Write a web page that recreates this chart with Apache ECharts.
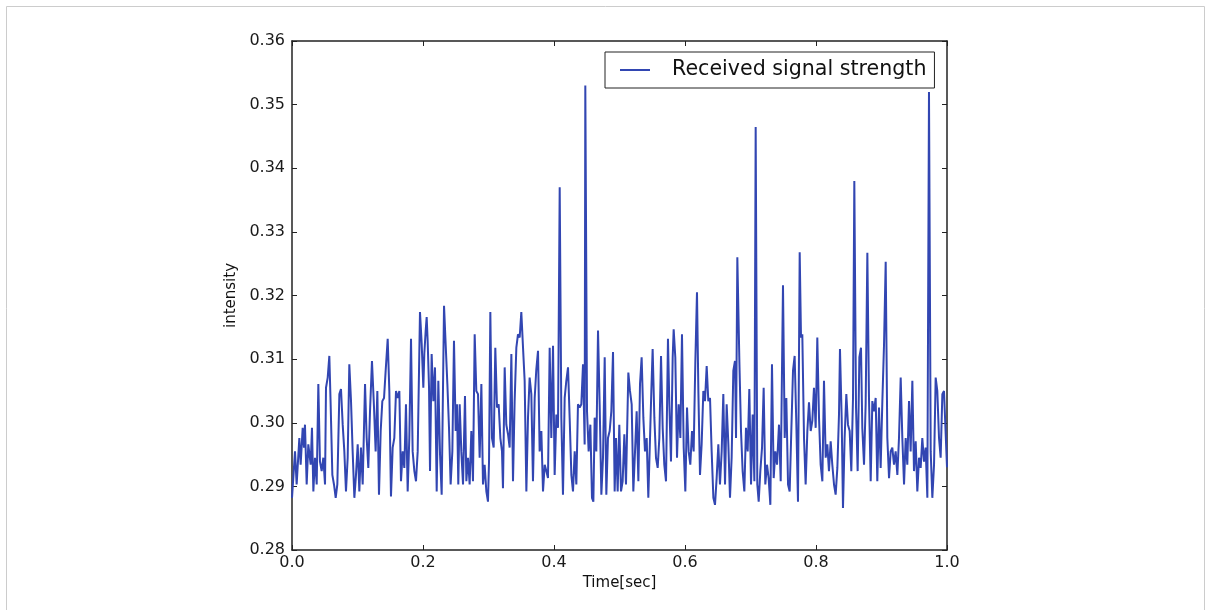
<!DOCTYPE html>
<html><head><meta charset="utf-8">
<script src="https://cdn.jsdelivr.net/npm/echarts@6/dist/echarts.min.js"></script>
<style>html,body{margin:0;padding:0;background:#fff}#c{width:1211px;height:610px}</style>
</head><body><div id="c"></div>
<script>
const seriesName = 'Received signal strength';
const xAxisTitle = 'Time[sec]';
const yAxisTitle = 'intensity';
const xRange = [0, 1.0];
const yRange = [0.28, 0.36];
// [time (s), intensity]
const receivedSignal = [
[0.0000,0.2882],[0.0046,0.2955],[0.0071,0.2903],[0.0112,0.2976],[0.0132,0.2934],[0.0163,0.2992],[0.0183,0.2961],[0.0198,0.2997],[0.0224,0.2903],[0.0249,0.2966],
[0.0285,0.2934],[0.0305,0.2992],[0.0326,0.2892],[0.0351,0.2945],[0.0377,0.2903],[0.0402,0.3061],[0.0427,0.2939],[0.0453,0.2924],[0.0478,0.2945],[0.0504,0.2903],
[0.0519,0.3055],[0.0545,0.3071],[0.0570,0.3105],[0.0590,0.3029],[0.0616,0.2918],[0.0641,0.2903],[0.0667,0.2882],[0.0692,0.2903],[0.0723,0.3045],[0.0748,0.3053],
[0.0774,0.2997],[0.0799,0.2955],[0.0824,0.2892],[0.0850,0.2945],[0.0875,0.3092],[0.0901,0.3034],[0.0926,0.2955],[0.0952,0.2882],[0.0977,0.2918],[0.1003,0.2966],
[0.1028,0.2892],[0.1053,0.2961],[0.1079,0.2903],[0.1115,0.3061],[0.1140,0.2976],[0.1165,0.2929],[0.1191,0.3018],[0.1221,0.3097],[0.1252,0.3024],[0.1277,0.2955],
[0.1303,0.3050],[0.1328,0.2887],[0.1354,0.2987],[0.1379,0.3034],[0.1405,0.3039],[0.1430,0.3082],[0.1461,0.3132],[0.1486,0.3050],[0.1511,0.2884],[0.1537,0.2961],
[0.1562,0.2976],[0.1588,0.3050],[0.1613,0.3039],[0.1639,0.3050],[0.1664,0.2908],[0.1690,0.2955],[0.1715,0.2929],[0.1740,0.3029],[0.1766,0.2892],[0.1791,0.2976],
[0.1817,0.3132],[0.1842,0.2955],[0.1868,0.2924],[0.1893,0.2908],[0.1919,0.2955],[0.1954,0.3174],[0.1980,0.3124],[0.2005,0.3055],[0.2020,0.3108],[0.2041,0.3145],
[0.2056,0.3166],[0.2071,0.3129],[0.2092,0.3055],[0.2107,0.2924],[0.2132,0.3108],[0.2158,0.3034],[0.2183,0.3087],[0.2209,0.2892],[0.2234,0.3066],[0.2260,0.2950],
[0.2285,0.2887],[0.2321,0.3184],[0.2346,0.3182],[0.2372,0.3061],[0.2397,0.2992],[0.2422,0.2903],[0.2448,0.2955],
[0.2473,0.3129],[0.2499,0.2987],[0.2519,0.3029],[0.2539,0.2903],[0.2560,0.3029],[0.2585,0.2955],[0.2611,0.2903],[0.2641,0.3042],[0.2662,0.2908],[0.2687,0.2945],
[0.2712,0.2903],[0.2738,0.2987],[0.2763,0.2908],[0.2789,0.3139],[0.2814,0.3050],[0.2840,0.3045],[0.2865,0.2945],[0.2891,0.3061],[0.2916,0.2903],[0.2941,0.2934],
[0.2967,0.2892],[0.2992,0.2876],[0.3008,0.2939],[0.3028,0.3174],[0.3053,0.2976],[0.3079,0.2961],[0.3104,0.3118],[0.3130,0.3024],[0.3155,0.3029],[0.3181,0.2976],
[0.3206,0.2955],[0.3221,0.2897],[0.3247,0.3087],[0.3272,0.2997],[0.3298,0.2982],[0.3323,0.2961],[0.3349,0.3108],[0.3374,0.2908],[0.3399,0.3034],[0.3425,0.3118],
[0.3450,0.3139],[0.3476,0.3134],[0.3501,0.3174],[0.3527,0.3118],[0.3552,0.3066],[0.3578,0.2892],[0.3603,0.3008],[0.3628,0.3071],[0.3654,0.3045],[0.3679,0.2908],
[0.3705,0.3039],[0.3730,0.3084],[0.3756,0.3113],[0.3781,0.2955],[0.3807,0.2987],[0.3832,0.2892],[0.3858,0.2934],[0.3883,0.2924],[0.3908,0.2913],[0.3934,0.3118],
[0.3959,0.2976],[0.3985,0.3121],[0.4010,0.2918],[0.4036,0.3013],[0.4061,0.2992],[0.4087,0.3370],[0.4112,0.3008],[0.4137,0.2887],[0.4163,0.3039],[0.4188,0.3066],
[0.4214,0.3087],[0.4239,0.3008],[0.4265,0.2918],[0.4290,0.2892],[0.4316,0.2955],[0.4341,0.2903],[0.4366,0.3029],[0.4392,0.3024],[0.4417,0.3029],[0.4443,0.3092],
[0.4468,0.2966],[0.4478,0.3530],[0.4504,0.3018],[0.4529,0.2955],[0.4555,0.2997],[0.4580,0.2882],[0.4601,0.2876],[0.4621,0.3008],[0.4646,0.2955],[0.4672,0.3145],
[0.4697,0.3029],[0.4723,0.2887],[0.4748,0.2945],[0.4774,0.3103],[0.4799,0.2887],[0.4824,0.2976],[0.4850,0.2987],[0.4875,0.3018],[0.4901,0.3111],[0.4926,0.2892],
[0.4947,0.2976],[0.4972,0.2892],[0.4997,0.2997],[0.5023,0.2892],[0.5048,0.2908],[0.5074,0.2982],[0.5099,0.2903],[0.5135,0.3079],[0.5160,0.3050],[0.5186,0.3029],
[0.5211,0.2892],[0.5237,0.2955],[0.5262,0.3018],[0.5288,0.2908],[0.5313,0.3061],[0.5338,0.3103],[0.5364,0.3008],[0.5389,0.2955],[0.5415,0.2976],[0.5440,0.2882],
[0.5466,0.2976],[0.5486,0.3050],[0.5506,0.3116],[0.5532,0.3008],[0.5557,0.2945],[0.5583,0.2929],[0.5608,0.2976],[0.5634,0.3105],[0.5659,0.2992],[0.5684,0.2934],
[0.5710,0.2908],[0.5740,0.3132],[0.5761,0.3029],[0.5786,0.2939],[0.5812,0.3103],[0.5827,0.3147],[0.5852,0.3103],[0.5878,0.2945],[0.5903,0.3029],[0.5929,0.2976],
[0.5954,0.3139],[0.5980,0.2961],[0.6005,0.2892],[0.6031,0.3024],[0.6056,0.2955],[0.6081,0.2934],[0.6107,0.2987],[0.6132,0.2955],[0.6158,0.3097],[0.6183,0.3205],
[0.6204,0.3050],[0.6229,0.2918],[0.6254,0.2966],[0.6280,0.3050],[0.6305,0.3034],[0.6331,0.3089],[0.6356,0.3034],[0.6382,0.3039],[0.6407,0.2955],[0.6433,0.2882],
[0.6458,0.2871],[0.6483,0.2913],[0.6509,0.2966],[0.6534,0.2903],[0.6560,0.2955],[0.6585,0.3045],[0.6611,0.2903],[0.6636,0.3029],[0.6662,0.2966],[0.6687,0.2882],
[0.6712,0.2945],[0.6738,0.3082],[0.6763,0.3097],[0.6779,0.2976],[0.6799,0.3260],[0.6830,0.3097],[0.6855,0.2987],[0.6880,0.2924],[0.6906,0.2892],[0.6931,0.2992],
[0.6957,0.2955],[0.6982,0.3053],[0.7008,0.2903],[0.7033,0.3013],[0.7059,0.2908],[0.7079,0.3465],[0.7104,0.2903],[0.7125,0.2876],[0.7150,0.2924],[0.7176,0.2961],
[0.7201,0.3055],[0.7226,0.2903],[0.7252,0.2934],[0.7277,0.2913],[0.7303,0.2871],[0.7328,0.3092],[0.7354,0.2913],[0.7379,0.2955],[0.7405,0.2934],
[0.7435,0.2997],[0.7461,0.2908],[0.7496,0.3216],[0.7522,0.2976],[0.7547,0.3039],[0.7573,0.2903],[0.7598,0.2892],[0.7623,0.2987],[0.7649,0.3082],[0.7674,0.3105],
[0.7700,0.2997],[0.7725,0.2876],[0.7751,0.3268],[0.7771,0.3134],[0.7791,0.3139],[0.7817,0.2976],[0.7842,0.2903],[0.7868,0.2987],[0.7893,0.3032],[0.7919,0.2987],
[0.7944,0.3003],[0.7969,0.3055],[0.7995,0.2992],[0.8020,0.3134],[0.8046,0.3008],[0.8071,0.2934],[0.8097,0.2908],[0.8122,0.3066],[0.8148,0.2945],[0.8173,0.2966],
[0.8198,0.2924],[0.8224,0.2971],[0.8249,0.2934],[0.8275,0.2903],[0.8300,0.2887],[0.8326,0.2929],[0.8351,0.3013],[0.8366,0.3116],[0.8392,0.3008],[0.8412,0.2866],
[0.8437,0.2976],[0.8463,0.3045],[0.8488,0.2997],[0.8514,0.2987],[0.8539,0.2924],[0.8565,0.3039],[0.8585,0.3380],[0.8611,0.3024],[0.8636,0.2924],[0.8662,0.3103],
[0.8687,0.3118],[0.8707,0.2992],[0.8733,0.2934],[0.8758,0.3029],[0.8784,0.3267],[0.8809,0.3039],[0.8835,0.2908],[0.8860,0.3034],[0.8885,0.3018],[0.8911,0.3039],
[0.8936,0.2908],[0.8962,0.3024],[0.8987,0.2929],[0.9013,0.3034],[0.9038,0.3121],[0.9064,0.3253],[0.9089,0.2976],[0.9115,0.2913],[0.9140,0.2955],[0.9165,0.2961],
[0.9191,0.2934],[0.9216,0.2955],[0.9242,0.2918],[0.9267,0.2976],[0.9293,0.3071],[0.9318,0.2976],[0.9344,0.2903],[0.9369,0.2976],[0.9394,0.2934],[0.9420,0.3034],
[0.9445,0.2955],[0.9471,0.3066],[0.9496,0.2924],[0.9522,0.2971],[0.9547,0.2892],[0.9573,0.2945],[0.9598,0.2929],[0.9623,0.2976],[0.9649,0.2939],[0.9674,0.2961],
[0.9700,0.2882],[0.9725,0.3520],[0.9751,0.2955],[0.9776,0.2882],[0.9802,0.2934],[0.9827,0.3071],[0.9852,0.3050],[0.9878,0.2976],[0.9903,0.2945],[0.9929,0.3045],
[0.9954,0.3050],[1.0000,0.2930]
];

const FONT = 'DejaVu Sans';
const AX = '#222';
const LINE = '#3246b2';

function frameAxis(extra) {
  return Object.assign({
    type: 'value',
    axisLine: { show: true, onZero: false, lineStyle: { color: AX, width: 1.5 } },
    axisTick: { show: true, inside: true, length: 5, lineStyle: { color: AX, width: 1 } },
    splitLine: { show: false },
    axisLabel: { show: false }
  }, extra);
}

const chart = echarts.init(document.getElementById('c'), null, { renderer: 'canvas' });
chart.setOption({
  animation: false,
  backgroundColor: '#fff',
  textStyle: { fontFamily: FONT },
  graphic: [{
    type: 'rect', silent: true, z: -10,
    shape: { x: 6.5, y: 6.5, width: 1198, height: 640 },
    style: { fill: 'none', stroke: '#cccccc', lineWidth: 1 }
  }],
  grid: { left: 292, right: 264, top: 41, bottom: 60, containLabel: false },
  legend: {
    data: [seriesName],
    left: 605, top: 52,
    icon: 'rect',
    itemWidth: 30, itemHeight: 2,
    padding: [7, 8, 7, 15],
    borderColor: '#222', borderWidth: 1, backgroundColor: '#fff',
    itemStyle: { color: LINE },
    textStyle: { fontSize: 20.6, color: '#111', fontFamily: FONT, padding: [0, 0, 0, 17], lineHeight: 22 }
  },
  xAxis: [
    frameAxis({
      min: xRange[0], max: xRange[1], interval: 0.2, position: 'bottom',
      name: xAxisTitle, nameLocation: 'middle', nameGap: 24,
      nameTextStyle: { fontSize: 15, color: '#111', fontFamily: FONT },
      axisLabel: { show: true, margin: 5, fontSize: 16, color: '#1a1a1a', fontFamily: FONT,
        formatter: v => v.toFixed(1) }
    }),
    frameAxis({ min: xRange[0], max: xRange[1], interval: 0.2, position: 'top' })
  ],
  yAxis: [
    frameAxis({
      min: yRange[0], max: yRange[1], interval: 0.01, position: 'left',
      name: yAxisTitle, nameLocation: 'middle', nameGap: 52, nameRotate: 90,
      nameTextStyle: { fontSize: 15, color: '#111', fontFamily: FONT },
      axisLabel: { show: true, margin: 7, fontSize: 16, color: '#1a1a1a', fontFamily: FONT,
        formatter: v => v.toFixed(2) }
    }),
    frameAxis({ min: yRange[0], max: yRange[1], interval: 0.01, position: 'right' })
  ],
  series: [{
    name: seriesName,
    type: 'line',
    xAxisIndex: 0, yAxisIndex: 0,
    data: receivedSignal,
    symbol: 'none',
    showSymbol: false,
    clip: true,
    lineStyle: { color: LINE, width: 2 },
    itemStyle: { color: LINE }
  }]
});
</script>
</body></html>
